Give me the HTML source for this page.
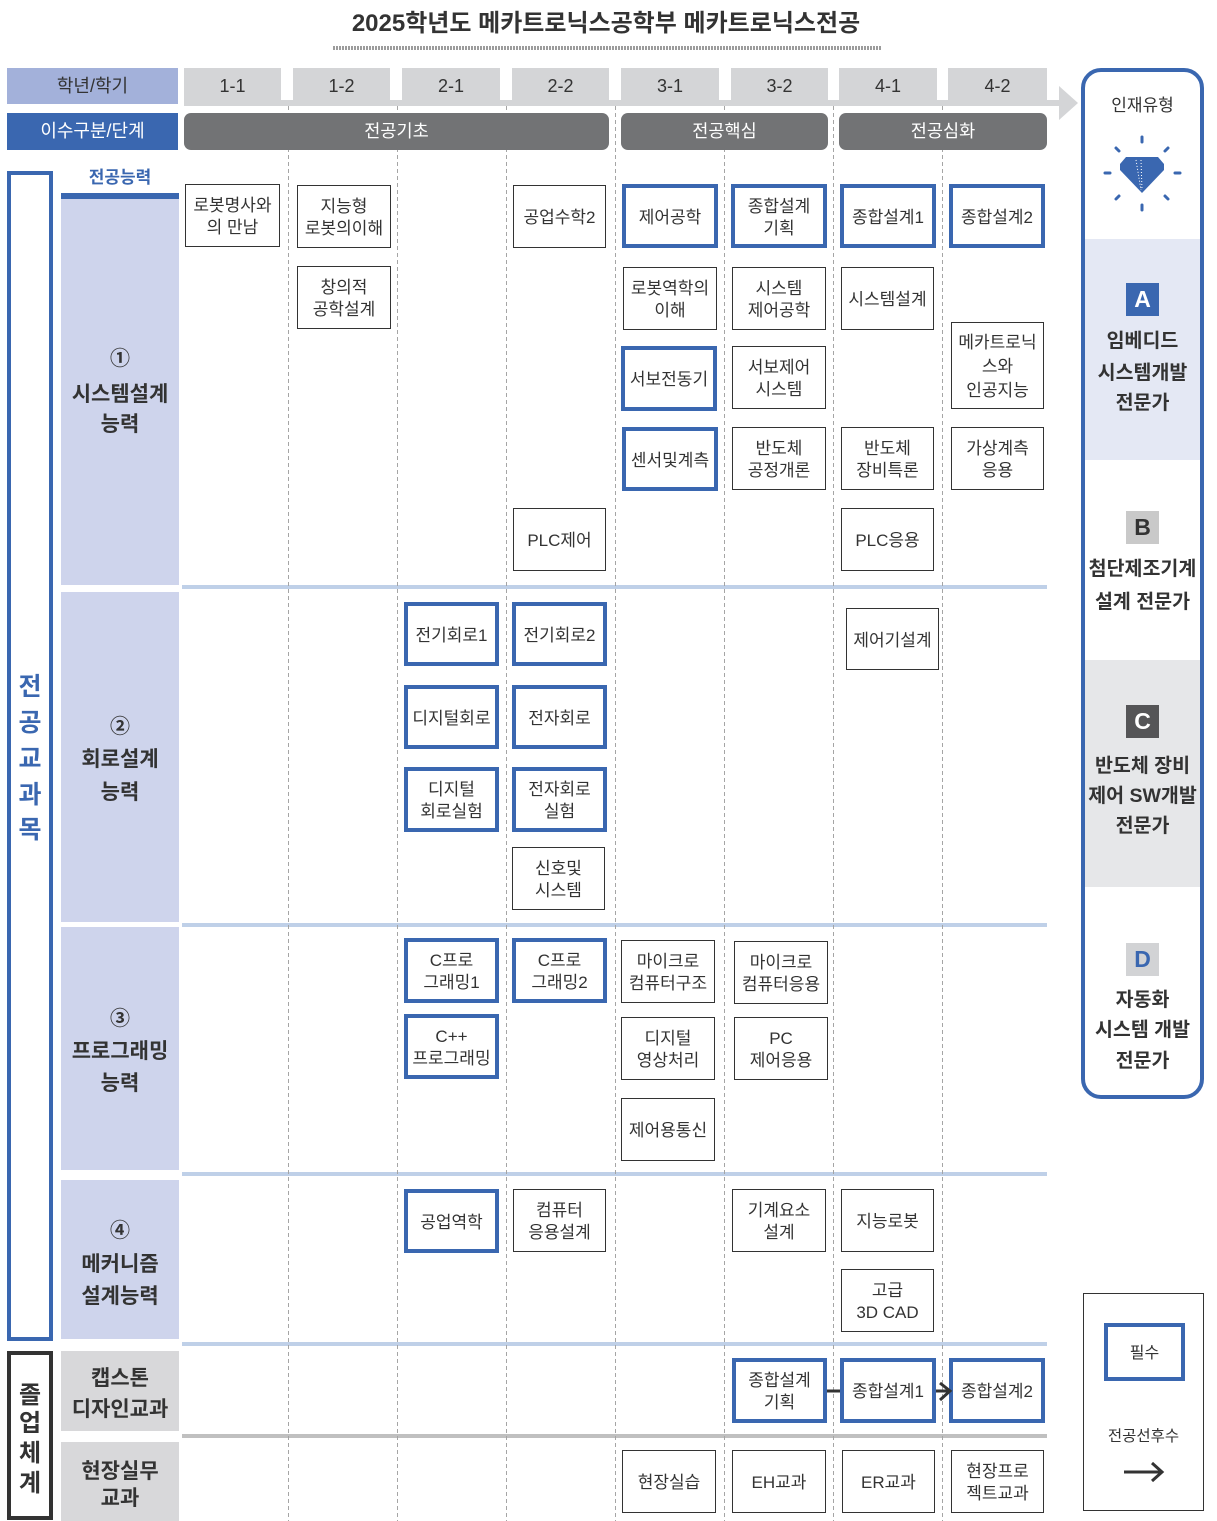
<!DOCTYPE html>
<html><head><meta charset="utf-8">
<style>
*{margin:0;padding:0;box-sizing:border-box}
body{width:1217px;height:1521px;position:relative;overflow:hidden;background:#fff;font-family:"Liberation Sans","Noto Sans CJK KR",sans-serif;color:#333}
.a{position:absolute}
.c{position:absolute;display:flex;align-items:center;justify-content:center;text-align:center;font-size:17px;line-height:22px;color:#333;background:#fff;font-family:"Liberation Sans","Noto Sans CJK KR",sans-serif;white-space:nowrap;padding-top:3px}
.t{border:1px solid #333}
.b{border:4px solid #3a67b0}
.tab{position:absolute;top:68px;height:33px;background:#d4d5d7;font-size:18px;line-height:36px;text-align:center;color:#333}
.pill{position:absolute;top:113px;height:37px;background:#727375;border-radius:7px;color:#fff;font-size:17.5px;line-height:37px;text-align:center}
.L{position:absolute;left:61px;width:118px;text-align:center;height:30px;line-height:30px;font-weight:bold;font-size:21px;color:#333;white-space:nowrap}
.P{position:absolute;left:61px;width:118px}
.sep{position:absolute;left:182px;width:865px;height:4px;background:#bfd0e8}
.V{position:absolute;width:46px;left:7px;text-align:center;font-weight:bold;font-size:25px;height:30px;line-height:30px}
.R{position:absolute;left:1081px;width:123px;text-align:center;font-weight:bold;font-size:19.5px;height:30px;line-height:30px;color:#333;white-space:nowrap}
.badge{position:absolute;left:1126px;width:33px;height:33px;text-align:center;line-height:33px;font-weight:bold;font-size:23px;font-family:"Liberation Sans",sans-serif}
</style></head><body>

<!-- Title -->
<div class="a" style="left:0;top:10px;width:1212px;text-align:center;font-size:24px;font-weight:bold;line-height:28px;color:#333;">2025학년도 메카트로닉스공학부 메카트로닉스전공</div>
<div class="a" style="left:333px;top:46px;width:549px;height:4px;background:repeating-linear-gradient(90deg,#9c9c9c 0 2px,#fff 2px 3px);"></div>

<!-- header row 1 -->
<div class="a" style="left:7px;top:68px;width:171px;height:36px;background:#a3b1da;font-size:18px;line-height:36px;text-align:center;color:#333;">학년/학기</div>
<div class="a" style="left:184px;top:100px;width:875px;height:6px;background:#d4d5d7;"></div>
<div class="tab" style="left:184px;width:97px;">1-1</div>
<div class="tab" style="left:293px;width:97px;">1-2</div>
<div class="tab" style="left:402px;width:98px;">2-1</div>
<div class="tab" style="left:512px;width:97px;">2-2</div>
<div class="tab" style="left:621px;width:98px;">3-1</div>
<div class="tab" style="left:731px;width:97px;">3-2</div>
<div class="tab" style="left:839px;width:98px;">4-1</div>
<div class="tab" style="left:948px;width:99px;">4-2</div>

<!-- header row 2 -->
<div class="a" style="left:7px;top:113px;width:171px;height:37px;background:#3a67b0;font-size:18px;line-height:37px;text-align:center;color:#fff;">이수구분/단계</div>

<!-- left column -->
<div class="a" style="left:7px;top:171px;width:46px;height:1170px;border:4px solid #3a67b0;"></div>
<div class="V" style="top:672px;color:#3a67b0;">전</div>
<div class="V" style="top:708px;color:#3a67b0;">공</div>
<div class="V" style="top:744px;color:#3a67b0;">교</div>
<div class="V" style="top:780px;color:#3a67b0;">과</div>
<div class="V" style="top:815px;color:#3a67b0;">목</div>

<div class="a" style="left:7px;top:1351px;width:46px;height:169px;border:4px solid #333;"></div>
<div class="V" style="top:1381px;color:#333;font-size:24px;">졸</div>
<div class="V" style="top:1409px;color:#333;font-size:24px;">업</div>
<div class="V" style="top:1439px;color:#333;font-size:24px;">체</div>
<div class="V" style="top:1469px;color:#333;font-size:24px;">계</div>

<div class="a" style="left:61px;top:165px;width:118px;text-align:center;font-weight:bold;font-size:17px;line-height:26px;color:#3a67b0;">전공능력</div>
<div class="P" style="top:193px;height:6px;background:#3a67b0;"></div>
<div class="P" style="top:199px;height:386px;background:#ced4ec;"></div>
<div class="P" style="top:592px;height:330px;background:#ced4ec;"></div>
<div class="P" style="top:927px;height:243px;background:#ced4ec;"></div>
<div class="P" style="top:1180px;height:159px;background:#ced4ec;"></div>
<div class="P" style="top:1351px;height:80px;background:#d8d8da;"></div>
<div class="P" style="top:1442px;height:79px;background:#d8d8da;"></div>

<div class="L" style="top:344px;font-size:20px;">①</div>
<div class="L" style="top:380px;">시스템설계</div>
<div class="L" style="top:410px;">능력</div>
<div class="L" style="top:712px;font-size:20px;">②</div>
<div class="L" style="top:745px;">회로설계</div>
<div class="L" style="top:778px;">능력</div>
<div class="L" style="top:1004px;font-size:20px;">③</div>
<div class="L" style="top:1037px;">프로그래밍</div>
<div class="L" style="top:1069px;">능력</div>
<div class="L" style="top:1216px;font-size:20px;">④</div>
<div class="L" style="top:1250px;">메커니즘</div>
<div class="L" style="top:1282px;">설계능력</div>
<div class="L" style="top:1364px;">캡스톤</div>
<div class="L" style="top:1395px;">디자인교과</div>
<div class="L" style="top:1457px;">현장실무</div>
<div class="L" style="top:1484px;">교과</div>

<!-- separators -->
<div class="sep" style="top:585px;"></div>
<div class="sep" style="top:923px;"></div>
<div class="sep" style="top:1172px;"></div>
<div class="sep" style="top:1342px;"></div>
<div class="sep" style="top:1434px;background:#c0c0c0;"></div>

<!-- dashed lines + header arrow -->
<svg class="a" style="left:0;top:0;" width="1217" height="1521" viewBox="0 0 1217 1521">
  <g stroke="#a5a5a5" stroke-width="1" stroke-dasharray="4 3">
    <line x1="288.5" y1="106" x2="288.5" y2="1521"/>
    <line x1="397.5" y1="106" x2="397.5" y2="1521"/>
    <line x1="506.5" y1="106" x2="506.5" y2="1521"/>
    <line x1="615.5" y1="106" x2="615.5" y2="1521"/>
    <line x1="724.5" y1="106" x2="724.5" y2="1521"/>
    <line x1="833.5" y1="106" x2="833.5" y2="1521"/>
    <line x1="942.5" y1="106" x2="942.5" y2="1521"/>
  </g>
  <polygon points="1059,86 1078,103 1059,120" fill="#d4d5d7"/>
</svg>

<!-- pills -->
<div class="pill" style="left:184px;width:425px;">전공기초</div>
<div class="pill" style="left:621px;width:207px;">전공핵심</div>
<div class="pill" style="left:839px;width:208px;">전공심화</div>

<!-- blue (required) boxes -->
<div class="c b" style="left:622px;top:184px;width:96px;height:64px;">제어공학</div>
<div class="c b" style="left:731px;top:184px;width:96px;height:64px;">종합설계<br>기획</div>
<div class="c b" style="left:840px;top:184px;width:96px;height:64px;">종합설계1</div>
<div class="c b" style="left:949px;top:184px;width:96px;height:64px;">종합설계2</div>
<div class="c b" style="left:621px;top:346px;width:96px;height:65px;">서보전동기</div>
<div class="c b" style="left:622px;top:427px;width:96px;height:64px;">센서및계측</div>
<div class="c b" style="left:404px;top:602px;width:95px;height:64px;">전기회로1</div>
<div class="c b" style="left:512px;top:602px;width:95px;height:64px;">전기회로2</div>
<div class="c b" style="left:404px;top:685px;width:95px;height:64px;">디지털회로</div>
<div class="c b" style="left:512px;top:685px;width:95px;height:64px;">전자회로</div>
<div class="c b" style="left:404px;top:767px;width:95px;height:65px;">디지털<br>회로실험</div>
<div class="c b" style="left:512px;top:767px;width:95px;height:65px;">전자회로<br>실험</div>
<div class="c b" style="left:404px;top:938px;width:95px;height:65px;">C프로<br>그래밍1</div>
<div class="c b" style="left:512px;top:938px;width:95px;height:65px;">C프로<br>그래밍2</div>
<div class="c b" style="left:404px;top:1014px;width:95px;height:65px;">C++<br>프로그래밍</div>
<div class="c b" style="left:404px;top:1189px;width:95px;height:64px;">공업역학</div>
<div class="c b" style="left:732px;top:1358px;width:95px;height:65px;">종합설계<br>기획</div>
<div class="c b" style="left:840px;top:1358px;width:96px;height:65px;">종합설계1</div>
<div class="c b" style="left:949px;top:1358px;width:96px;height:65px;">종합설계2</div>

<!-- thin boxes -->
<div class="c t" style="left:185px;top:184px;width:95px;height:63px;">로봇명사와<br>의 만남</div>
<div class="c t" style="left:297px;top:185px;width:94px;height:63px;">지능형<br>로봇의이해</div>
<div class="c t" style="left:297px;top:266px;width:94px;height:63px;">창의적<br>공학설계</div>
<div class="c t" style="left:513px;top:185px;width:93px;height:63px;">공업수학2</div>
<div class="c t" style="left:623px;top:267px;width:94px;height:63px;">로봇역학의<br>이해</div>
<div class="c t" style="left:732px;top:267px;width:94px;height:63px;">시스템<br>제어공학</div>
<div class="c t" style="left:841px;top:267px;width:93px;height:63px;">시스템설계</div>
<div class="c t" style="left:951px;top:322px;width:93px;height:87px;line-height:24px;">메카트로닉<br>스와<br>인공지능</div>
<div class="c t" style="left:732px;top:346px;width:94px;height:63px;">서보제어<br>시스템</div>
<div class="c t" style="left:732px;top:427px;width:94px;height:63px;">반도체<br>공정개론</div>
<div class="c t" style="left:841px;top:427px;width:93px;height:63px;">반도체<br>장비특론</div>
<div class="c t" style="left:951px;top:427px;width:93px;height:63px;">가상계측<br>응용</div>
<div class="c t" style="left:513px;top:508px;width:93px;height:63px;">PLC제어</div>
<div class="c t" style="left:841px;top:508px;width:93px;height:63px;">PLC응용</div>
<div class="c t" style="left:846px;top:608px;width:93px;height:62px;">제어기설계</div>
<div class="c t" style="left:512px;top:847px;width:93px;height:63px;">신호및<br>시스템</div>
<div class="c t" style="left:621px;top:940px;width:94px;height:63px;">마이크로<br>컴퓨터구조</div>
<div class="c t" style="left:734px;top:941px;width:94px;height:63px;">마이크로<br>컴퓨터응용</div>
<div class="c t" style="left:621px;top:1017px;width:94px;height:63px;">디지털<br>영상처리</div>
<div class="c t" style="left:734px;top:1017px;width:94px;height:63px;">PC<br>제어응용</div>
<div class="c t" style="left:621px;top:1098px;width:94px;height:63px;">제어용통신</div>
<div class="c t" style="left:513px;top:1189px;width:93px;height:63px;">컴퓨터<br>응용설계</div>
<div class="c t" style="left:732px;top:1189px;width:94px;height:63px;">기계요소<br>설계</div>
<div class="c t" style="left:841px;top:1189px;width:93px;height:63px;">지능로봇</div>
<div class="c t" style="left:841px;top:1269px;width:93px;height:63px;">고급<br>3D CAD</div>
<div class="c t" style="left:622px;top:1450px;width:94px;height:63px;">현장실습</div>
<div class="c t" style="left:732px;top:1450px;width:94px;height:63px;">EH교과</div>
<div class="c t" style="left:842px;top:1450px;width:93px;height:63px;">ER교과</div>
<div class="c t" style="left:951px;top:1450px;width:93px;height:63px;">현장프로<br>젝트교과</div>

<!-- right panel -->
<div class="a" style="left:1085px;top:239px;width:115px;height:221px;background:#e4e8f4;"></div>
<div class="a" style="left:1085px;top:660px;width:115px;height:227px;background:#e6e7e9;"></div>
<div class="a" style="left:1081px;top:68px;width:123px;height:1031px;border:4px solid #3a67b0;border-radius:20px;"></div>
<div class="a" style="left:1081px;top:94px;width:123px;text-align:center;font-size:17px;line-height:24px;color:#333;">인재유형</div>

<div class="badge" style="top:283px;background:#3a67b0;color:#fff;">A</div>
<div class="R" style="top:326px;">임베디드</div>
<div class="R" style="top:358px;">시스템개발</div>
<div class="R" style="top:388px;">전문가</div>

<div class="badge" style="top:511px;background:#c9c9c9;color:#333;">B</div>
<div class="R" style="top:554px;">첨단제조기계</div>
<div class="R" style="top:587px;">설계 전문가</div>

<div class="badge" style="top:705px;background:#555557;color:#fff;">C</div>
<div class="R" style="top:751px;">반도체 장비</div>
<div class="R" style="top:781px;">제어 SW개발</div>
<div class="R" style="top:811px;">전문가</div>

<div class="badge" style="top:943px;background:#d2d3d5;color:#3a67b0;">D</div>
<div class="R" style="top:985px;">자동화</div>
<div class="R" style="top:1015px;">시스템 개발</div>
<div class="R" style="top:1046px;">전문가</div>

<!-- legend -->
<div class="a" style="left:1083px;top:1293px;width:121px;height:218px;border:1px solid #333;"></div>
<div class="c b" style="left:1104px;top:1323px;width:81px;height:58px;font-size:16px;">필수</div>
<div class="a" style="left:1083px;top:1425px;width:121px;text-align:center;font-size:15.5px;line-height:24px;color:#333;">전공선후수</div>

<!-- overlay svg: diamond, connectors, legend arrow -->
<svg class="a" style="left:0;top:0;" width="1217" height="1521" viewBox="0 0 1217 1521">
  <g stroke="#3a67b0" stroke-width="3" stroke-linecap="round">
    <line x1="1142" y1="137" x2="1142" y2="142"/>
    <line x1="1142" y1="205" x2="1142" y2="210"/>
    <line x1="1105" y1="173" x2="1110" y2="173"/>
    <line x1="1175" y1="173" x2="1180" y2="173"/>
    <line x1="1116" y1="148" x2="1119" y2="151"/>
    <line x1="1168" y1="148" x2="1165" y2="151"/>
    <line x1="1116" y1="199" x2="1119" y2="196"/>
    <line x1="1168" y1="199" x2="1165" y2="196"/>
  </g>
  <polygon points="1126,157 1158,157 1164,164 1164,170 1142,193 1120,170 1120,164" fill="#3a67b0"/>
  <g stroke="#fff" stroke-width="1" stroke-dasharray="1 2">
    <line x1="1136" y1="160" x2="1141" y2="190"/>
    <line x1="1141" y1="160" x2="1142" y2="190"/>
  </g>
  <!-- capstone connectors -->
  <line x1="827" y1="1391" x2="840" y2="1391" stroke="#333" stroke-width="3"/>
  <line x1="936" y1="1391" x2="950" y2="1391" stroke="#333" stroke-width="3"/>
  <polyline points="940,1383 950,1391 940,1400" fill="none" stroke="#333" stroke-width="3"/>
  <!-- legend arrow -->
  <line x1="1124" y1="1472" x2="1162" y2="1472" stroke="#333" stroke-width="3"/>
  <polyline points="1152,1463 1162,1472 1152,1481" fill="none" stroke="#333" stroke-width="3"/>
</svg>

</body></html>
